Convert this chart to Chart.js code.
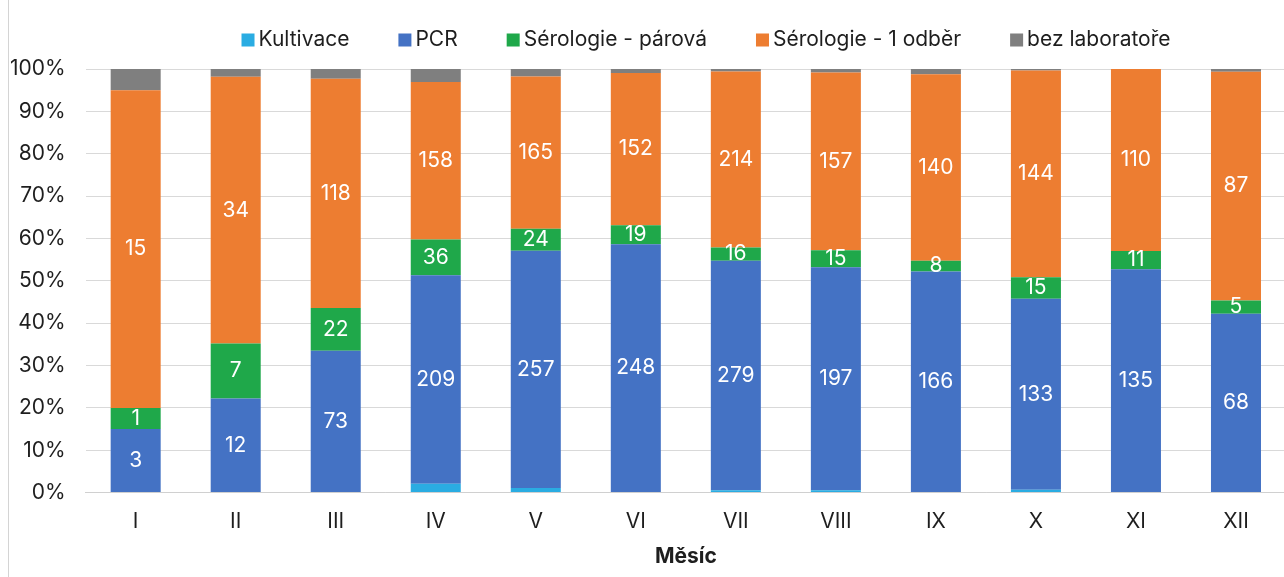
<!DOCTYPE html>
<html>
<head>
<meta charset="utf-8">
<script src="https://cdn.jsdelivr.net/npm/chart.js@4"></script>
<style>
  body { margin: 0; background: #fff; overflow: hidden; }
  #wrap { position: absolute; left: 0; top: 0; width: 1300px; height: 577px; }
  #frame { position: absolute; left: 8px; top: -1px; width: 1290px; height: 590px; border: 1px solid #d4d4d4; }
</style>
</head>
<body>
<div id="frame"></div>
<div id="wrap"><canvas id="graf"></canvas></div>
<script>
const mesice = ['I', 'II', 'III', 'IV', 'V', 'VI', 'VII', 'VIII', 'IX', 'X', 'XI', 'XII']

// pocty vysetreni podle mesicu
const kultivace = [0, 0, 0, 9, 5, 0, 3, 2, 0, 2, 0, 0]
const pcr = [3, 12, 73, 209, 257, 248, 279, 197, 166, 133, 135, 68]
const serologieParova = [1, 7, 22, 36, 24, 19, 16, 15, 8, 15, 11, 5]
const serologieOdber = [15, 34, 118, 158, 165, 152, 214, 157, 140, 144, 110, 87]
const bezLaboratore = [1, 1, 5, 13, 8, 4, 3, 3, 4, 1, 0, 1]

const popisky = ['Kultivace', 'PCR', 'Sérologie - párová', 'Sérologie - 1 odběr', 'bez laboratoře']
const barvy = ['#2aace2', '#4472c4', '#1fa84a', '#ed7d31', '#7f7f7f']
const serie = [kultivace, pcr, serologieParova, serologieOdber, bezLaboratore]

const celkem = mesice.map((m, i) => serie.reduce((s, arr) => s + arr[i], 0))
const procenta = arr => arr.map((v, i) => v / celkem[i] * 100)

const FONT = 'Inter'
const VELIKOST = 21
const TEXT = '#1e1e1e'

// popisky s pocty uvnitr sloupcu (jen PCR a serologie)
const hodnotyPlugin = {
    id: 'hodnoty',
    afterDatasetsDraw(chart) {
        const ctx = chart.ctx
        ctx.save()
        ctx.fillStyle = '#ffffff'
        ctx.font = VELIKOST + 'px ' + FONT
        ctx.textAlign = 'center'
        ctx.textBaseline = 'middle'
        ;[1, 2, 3].forEach(di => {
            const meta = chart.getDatasetMeta(di)
            meta.data.forEach((bar, i) => {
                const v = serie[di][i]
                if (!v) return
                ctx.fillText(String(v), bar.x, (bar.y + bar.base) / 2)
            })
        })
        ctx.restore()
    }
}

// legenda s vetsimi mezerami nez umi vestavena
const legendaPlugin = {
    id: 'legenda',
    afterDraw(chart) {
        const ctx = chart.ctx
        const box = 13, mezera = 4, odstup = 49, stred = 706, y = 40
        ctx.save()
        ctx.font = VELIKOST + 'px ' + FONT
        ctx.textBaseline = 'middle'
        const sirky = popisky.map(t => box + mezera + ctx.measureText(t).width)
        const celek = sirky.reduce((a, b) => a + b, 0) + odstup * (popisky.length - 1)
        let x = stred - celek / 2
        popisky.forEach((t, i) => {
            ctx.fillStyle = barvy[i]
            ctx.fillRect(x, y - box / 2, box, box)
            ctx.fillStyle = TEXT
            ctx.fillText(t, x + box + mezera, y)
            x += sirky[i] + odstup
        })
        ctx.restore()
    }
}

new Chart(document.getElementById('graf'), {
    type: 'bar',
    data: {
        labels: mesice,
        datasets: serie.map((arr, i) => ({
            label: popisky[i],
            data: procenta(arr),
            backgroundColor: barvy[i],
            borderWidth: 0,
            barPercentage: 0.5,
            categoryPercentage: 1
        }))
    },
    options: {
        responsive: true,
        maintainAspectRatio: false,
        animation: false,
        layout: { padding: { left: -10, right: 14, top: 69, bottom: 8 } },
        plugins: {
            legend: { display: false },
            tooltip: { enabled: false }
        },
        scales: {
            x: {
                stacked: true,
                grid: { display: false },
                border: { color: '#d0d0d0' },
                ticks: { font: { family: FONT, size: VELIKOST }, color: TEXT, padding: 8 },
                title: {
                    display: true,
                    text: 'Měsíc',
                    font: { family: FONT, size: VELIKOST, weight: 'bold' },
                    color: TEXT,
                    padding: { top: 2, bottom: 0 }
                }
            },
            y: {
                stacked: true,
                min: 0,
                max: 100,
                grid: { color: '#d9d9d9', drawTicks: false },
                border: { display: false },
                ticks: {
                    stepSize: 10,
                    font: { family: FONT, size: VELIKOST },
                    color: TEXT,
                    padding: 20,
                    callback: v => v + '%'
                }
            }
        }
    },
    plugins: [hodnotyPlugin, legendaPlugin]
});
</script>
</body>
</html>
